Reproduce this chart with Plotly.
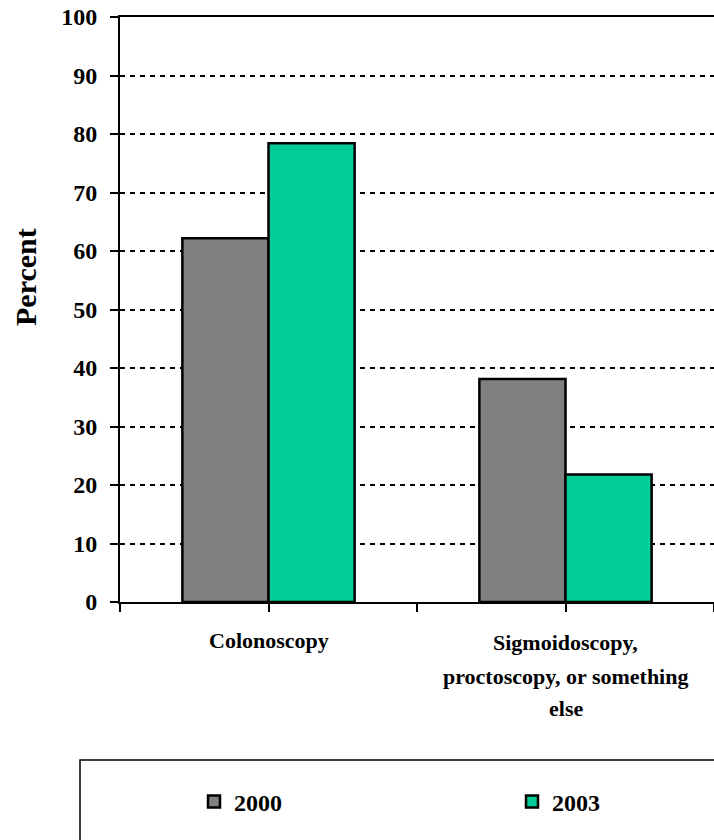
import plotly.graph_objects as go

# Share of endoscopy procedures by type, 2000 vs 2003
categories = ["Colonoscopy", "Sigmoidoscopy, proctoscopy, or something else"]
category_lines = [["Colonoscopy"], ["Sigmoidoscopy,", "proctoscopy, or something", "else"]]
years = ["2000", "2003"]
values_2000 = [62.2, 38.1]
values_2003 = [78.4, 21.8]
y_ticks = [0, 10, 20, 30, 40, 50, 60, 70, 80, 90, 100]

FONT = "Liberation Serif"
W, H = 714, 840
ML, MR, MT, MB = 120, 0, 17, 238
plot_w = W - ML - MR
plot_h = H - MT - MB
base_py = MT + plot_h


def px_x(px):
    return (px - ML) / plot_w


def px_y(py):
    return (base_py - py) / plot_h


x_pos = list(range(len(categories)))

fig = go.Figure()
legend_x = [194, 512]
for i, (name, vals, color) in enumerate([(years[0], values_2000, "#808080"),
                                          (years[1], values_2003, "#00CC99")]):
    fig.add_trace(go.Bar(
        x=x_pos, y=vals, name=name,
        legend="legend" if i == 0 else "legend2",
        marker=dict(color=color, line=dict(color="black", width=2.5)),
    ))

# tick marks at category centres and boundaries
half_steps = [i * 0.5 - 0.5 for i in range(2 * len(categories) + 1)]

legend_style = dict(
    orientation="h", xanchor="left", y=px_y(802), yanchor="middle",
    font=dict(family=FONT, size=24, color="black", weight="bold"),
    bgcolor="rgba(0,0,0,0)", itemclick=False, itemdoubleclick=False,
)

fig.update_layout(
    width=W, height=H,
    margin=dict(l=ML, r=MR, t=MT, b=MB),
    paper_bgcolor="white", plot_bgcolor="white",
    barmode="group", bargap=0.42, bargroupgap=0,
    font=dict(family=FONT, size=20, color="black"),
    showlegend=True,
    legend=dict(x=px_x(legend_x[0]), **legend_style),
    legend2=dict(x=px_x(legend_x[1]), **legend_style),
    xaxis=dict(
        range=[-0.5, len(categories) - 0.5], tickvals=half_steps,
        ticktext=[""] * len(half_steps), ticks="outside", ticklen=8,
        tickwidth=1.5, tickcolor="black",
        showline=True, linecolor="black", linewidth=1.5, mirror=True,
        showgrid=False, zeroline=False, fixedrange=True,
    ),
    yaxis=dict(
        range=[0, 100], tickvals=y_ticks, ticks="outside", ticklen=8,
        tickwidth=1.5, tickcolor="black",
        tickfont=dict(family=FONT, size=24, color="black", weight="bold"),
        ticklabelstandoff=8,
        showline=True, linecolor="black", linewidth=2,
        showgrid=True, gridcolor="black", gridwidth=1.5, griddash="5px,5px",
        zeroline=False, fixedrange=True,
    ),
)

# y-axis title
fig.add_annotation(
    text="<b>Percent</b>", textangle=-90, showarrow=False,
    xref="paper", yref="paper", x=px_x(25), xanchor="center",
    y=px_y(277), yanchor="middle",
    font=dict(family=FONT, size=30, color="black"),
)

# category labels, one annotation per wrapped line
line_y = [[640], [642, 676, 708]]
for xi, lines, ys in zip(x_pos, category_lines, line_y):
    for text, py in zip(lines, ys):
        fig.add_annotation(
            text=f"<b>{text}</b>", showarrow=False,
            xref="x", yref="paper", x=xi, y=0, yanchor="middle",
            yshift=-(py - base_py),
            font=dict(family=FONT, size=22, color="black"),
        )

# legend frame
fig.add_shape(
    type="rect", xref="paper", yref="paper",
    x0=px_x(80), x1=1.2, y0=px_y(900), y1=px_y(760),
    line=dict(color="black", width=1.5), fillcolor="rgba(0,0,0,0)", layer="below",
)

fig.write_html("out.html")
